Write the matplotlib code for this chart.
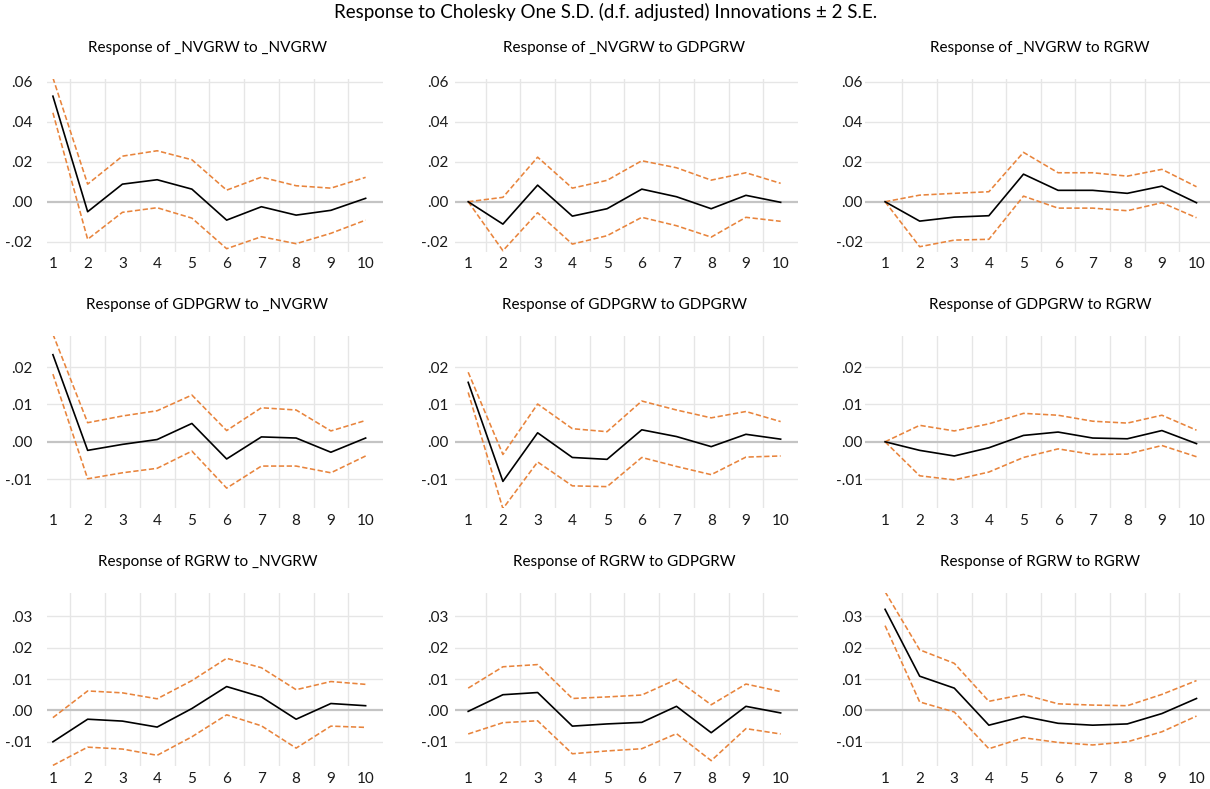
import numpy as np
import matplotlib
matplotlib.use("Agg")
import matplotlib.pyplot as plt

plt.rcParams['font.family'] = ['Lato', 'DejaVu Sans']

# 期数
periods = list(range(1, 11))
shock_names = ["_NVGRW", "GDPGRW", "RGRW"]

# 脉冲响应 (中值, 上界, 下界)  -- 行: 响应变量, 列: 冲击变量
nv_nv = [0.0528, -0.0050, 0.0088, 0.0110, 0.0063, -0.0092, -0.0025, -0.0067, -0.0043, 0.0017]
nv_nv_hi = [0.0620, 0.0088, 0.0228, 0.0255, 0.0210, 0.0058, 0.0123, 0.0080, 0.0068, 0.0122]
nv_nv_lo = [0.0445, -0.0188, -0.0053, -0.0030, -0.0082, -0.0235, -0.0175, -0.0210, -0.0158, -0.0092]

nv_gdp = [0.0, -0.0112, 0.0083, -0.0072, -0.0035, 0.0063, 0.0025, -0.0035, 0.0032, -0.0003]
nv_gdp_hi = [0.0, 0.0022, 0.0223, 0.0068, 0.0107, 0.0205, 0.0170, 0.0108, 0.0145, 0.0092]
nv_gdp_lo = [0.0, -0.0245, -0.0055, -0.0212, -0.0170, -0.0078, -0.0120, -0.0177, -0.0078, -0.0098]

nv_r = [0.0, -0.0097, -0.0077, -0.0070, 0.0138, 0.0057, 0.0057, 0.0042, 0.0078, -0.0005]
nv_r_hi = [0.0, 0.0033, 0.0042, 0.0050, 0.0247, 0.0145, 0.0145, 0.0128, 0.0162, 0.0075]
nv_r_lo = [0.0, -0.0225, -0.0192, -0.0188, 0.0028, -0.0032, -0.0032, -0.0045, -0.0005, -0.0080]

gdp_nv = [0.0233, -0.0023, -0.0007, 0.0006, 0.0049, -0.0046, 0.0013, 0.0010, -0.0028, 0.0010]
gdp_nv_hi = [0.0288, 0.0051, 0.0069, 0.0083, 0.0125, 0.0030, 0.0091, 0.0085, 0.0029, 0.0057]
gdp_nv_lo = [0.0181, -0.0099, -0.0083, -0.0071, -0.0025, -0.0124, -0.0065, -0.0065, -0.0083, -0.0038]

gdp_gdp = [0.0159, -0.0106, 0.0024, -0.0042, -0.0047, 0.0032, 0.0014, -0.0013, 0.0020, 0.0007]
gdp_gdp_hi = [0.0186, -0.0034, 0.0101, 0.0035, 0.0027, 0.0109, 0.0085, 0.0064, 0.0081, 0.0054]
gdp_gdp_lo = [0.0132, -0.0179, -0.0054, -0.0118, -0.0120, -0.0042, -0.0066, -0.0088, -0.0041, -0.0038]

gdp_r = [0.0, -0.0023, -0.0038, -0.0016, 0.0017, 0.0026, 0.0010, 0.0008, 0.0030, -0.0005]
gdp_r_hi = [0.0, 0.0044, 0.0029, 0.0048, 0.0076, 0.0071, 0.0055, 0.0050, 0.0071, 0.0031]
gdp_r_lo = [0.0, -0.0091, -0.0102, -0.0081, -0.0042, -0.0019, -0.0034, -0.0033, -0.0010, -0.0040]

r_nv = [-0.0100, -0.0028, -0.0034, -0.0053, 0.0006, 0.0076, 0.0043, -0.0028, 0.0022, 0.0015]
r_nv_hi = [-0.0023, 0.0062, 0.0056, 0.0037, 0.0095, 0.0166, 0.0136, 0.0066, 0.0092, 0.0083]
r_nv_lo = [-0.0175, -0.0117, -0.0123, -0.0143, -0.0084, -0.0014, -0.0049, -0.0120, -0.0050, -0.0054]

r_gdp = [-0.0003, 0.0050, 0.0057, -0.0050, -0.0043, -0.0038, 0.0013, -0.0071, 0.0013, -0.0008]
r_gdp_hi = [0.0071, 0.0139, 0.0146, 0.0038, 0.0043, 0.0049, 0.0099, 0.0018, 0.0084, 0.0060]
r_gdp_lo = [-0.0075, -0.0039, -0.0033, -0.0138, -0.0129, -0.0122, -0.0074, -0.0160, -0.0058, -0.0075]

r_r = [0.0322, 0.0109, 0.0071, -0.0047, -0.0019, -0.0041, -0.0047, -0.0043, -0.0010, 0.0038]
r_r_hi = [0.0378, 0.0193, 0.0150, 0.0029, 0.0051, 0.0021, 0.0017, 0.0015, 0.0051, 0.0095]
r_r_lo = [0.0270, 0.0027, -0.0005, -0.0122, -0.0087, -0.0102, -0.0110, -0.0100, -0.0068, -0.0018]

panels = [
    [(nv_nv, nv_nv_hi, nv_nv_lo), (nv_gdp, nv_gdp_hi, nv_gdp_lo), (nv_r, nv_r_hi, nv_r_lo)],
    [(gdp_nv, gdp_nv_hi, gdp_nv_lo), (gdp_gdp, gdp_gdp_hi, gdp_gdp_lo), (gdp_r, gdp_r_hi, gdp_r_lo)],
    [(r_nv, r_nv_hi, r_nv_lo), (r_gdp, r_gdp_hi, r_gdp_lo), (r_r, r_r_hi, r_r_lo)],
]

# 每行的纵轴设置
row_yticks = [
    [-0.02, 0.0, 0.02, 0.04, 0.06],
    [-0.01, 0.0, 0.01, 0.02],
    [-0.01, 0.0, 0.01, 0.02, 0.03],
]
row_ylim = [(-0.025, 0.0614), (-0.0178, 0.0283), (-0.0177, 0.0373)]

# 像素位置 (图片 1210x789)
W, H = 1210, 789
col_px = [(47, 383), (455, 798), (865, 1210)]
row_px = [(79, 251.7), (336, 508.3), (593.3, 766)]
col_xlim = [(0.83, 10.5), (0.62, 10.5), (0.42, 10.39)]
col_ypad = [10.5, 5.0, 1.5]
title_x = [207.5, 624, 1040]
title_y = [48, 305, 561.7]

ORANGE = '#E8843C'

def fmt_tick(v):
    s = f"{v:.2f}"
    return s.replace("0.", ".", 1)

fig = plt.figure(figsize=(W / 100, H / 100), dpi=100)

fig.text(606 / W, 1 - 12 / H,
         "Response to Cholesky One S.D. (d.f. adjusted) Innovations \u00b1 2 S.E.",
         ha='center', va='center', fontsize=13.5)

for i in range(3):
    for j in range(3):
        x0, x1 = col_px[j]
        y0, y1 = row_px[i]
        ax = fig.add_axes([x0 / W, 1 - y1 / H, (x1 - x0) / W, (y1 - y0) / H])
        mid, hi, lo = panels[i][j]

        # 网格线
        for xv in np.arange(1.5, 10, 1.0):
            ax.axvline(xv, color='#e6e6e6', lw=1.0, zorder=0)
        for yv in row_yticks[i]:
            if yv != 0:
                ax.axhline(yv, color='#e6e6e6', lw=1.0, zorder=0)
        ax.axhline(0, color='#c4c4c4', lw=1.6, zorder=1)

        ax.plot(periods, hi, color=ORANGE, lw=1.15, linestyle=(0, (3.3, 1.6)), zorder=2)
        ax.plot(periods, lo, color=ORANGE, lw=1.15, linestyle=(0, (3.3, 1.6)), zorder=2)
        ax.plot(periods, mid, color='black', lw=1.2, zorder=3)

        ax.set_xlim(*col_xlim[j])
        ax.set_ylim(*row_ylim[i])
        ax.set_xticks(periods)
        ax.set_xticklabels([str(p) for p in periods])
        ax.set_yticks(row_yticks[i])
        ax.set_yticklabels([fmt_tick(v) for v in row_yticks[i]])
        ax.tick_params(axis='both', length=0, labelsize=11, colors='#1a1a1a')
        ax.tick_params(axis='x', pad=4)
        ax.tick_params(axis='y', pad=col_ypad[j])
        for sp in ax.spines.values():
            sp.set_visible(False)
        ax.patch.set_alpha(0)

        fig.text(title_x[j] / W, 1 - title_y[i] / H,
                 f"Response of {shock_names[i]} to {shock_names[j]}",
                 ha='center', va='center', fontsize=11)

fig.savefig("out.png", dpi=100)
